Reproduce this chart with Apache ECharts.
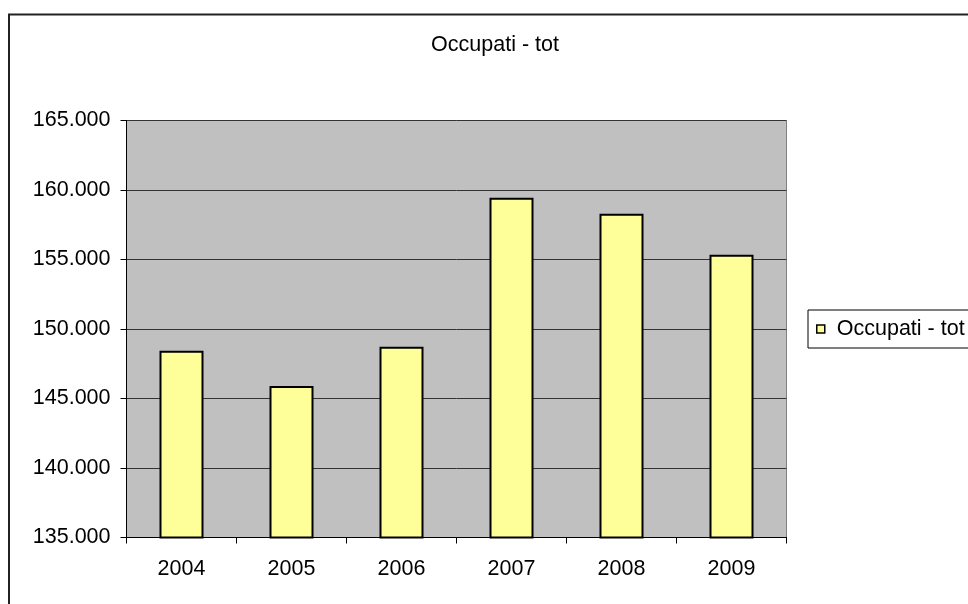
<!DOCTYPE html>
<html>
<head>
<meta charset="utf-8">
<script src="https://cdn.jsdelivr.net/npm/echarts@6/dist/echarts.min.js"></script>
<style>
  html, body { margin: 0; padding: 0; background: #ffffff; }
  #chart { width: 968px; height: 604px; }
</style>
</head>
<body>
<div id="chart"></div>
<script>
// Occupati totali per anno
const years = ['2004', '2005', '2006', '2007', '2008', '2009'];
const occupati = [148440, 145900, 148730, 159450, 158300, 155340];
const seriesName = 'Occupati - tot';
const chartTitle = 'Occupati - tot';

const FONT = '"Liberation Sans", Arial, sans-serif';

// thousands with a dot, Italian style
function fmtThousands(v) {
  return String(Math.round(v)).replace(/\B(?=(\d{3})+(?!\d))/g, '.');
}

const chart = echarts.init(document.getElementById('chart'), null, { renderer: 'canvas' });

chart.setOption({
  animation: false,
  backgroundColor: '#ffffff',
  textStyle: { fontFamily: FONT },
  title: {
    text: chartTitle,
    left: 495,
    top: 34,
    textAlign: 'center',
    padding: 0,
    textStyle: { fontFamily: FONT, fontSize: 21.5, fontWeight: 'normal', color: '#000' }
  },
  legend: {
    data: [seriesName],
    left: 808,
    top: 310,
    orient: 'vertical',
    padding: [8, 40, 8, 8],
    borderColor: '#000',
    borderWidth: 1,
    backgroundColor: '#fff',
    itemWidth: 8,
    itemHeight: 8,
    icon: 'rect',
    itemStyle: { color: '#FFFF99', borderColor: '#000', borderWidth: 1.5 },
    textStyle: { fontFamily: FONT, fontSize: 21.5, color: '#000', padding: [0, 0, 0, 7] }
  },
  grid: {
    left: 126.5,
    right: 181.5,
    top: 120.5,
    bottom: 66.5,
    show: true,
    backgroundColor: '#C0C0C0',
    borderColor: '#808080',
    borderWidth: 1,
    containLabel: false
  },
  xAxis: {
    type: 'category',
    data: years,
    boundaryGap: true,
    axisLine: { show: true, lineStyle: { color: '#000', width: 1 } },
    axisTick: { show: true, length: 6, lineStyle: { color: '#000' } },
    axisLabel: { margin: 21, fontFamily: FONT, fontSize: 21.5, color: '#000' },
    splitLine: { show: false }
  },
  yAxis: {
    type: 'value',
    min: 135000,
    max: 165000,
    interval: 5000,
    axisLine: { show: true, lineStyle: { color: '#000', width: 1 } },
    axisTick: { show: true, length: 6, lineStyle: { color: '#000' } },
    axisLabel: {
      margin: 16,
      fontFamily: FONT,
      fontSize: 21.5,
      color: '#000',
      formatter: fmtThousands
    },
    splitLine: { show: true, lineStyle: { color: '#333333', width: 1 } }
  },
  series: [{
    name: seriesName,
    type: 'bar',
    data: occupati,
    barCategoryGap: '60%',
    itemStyle: { color: '#FFFF99', borderColor: '#000', borderWidth: 2 }
  }],
  graphic: [{
    type: 'rect',
    silent: true,
    z: -1,
    shape: { x: 9, y: 14.5, width: 1100, height: 800 },
    style: { fill: 'none', stroke: '#222', lineWidth: 2 }
  }]
});
</script>
</body>
</html>
